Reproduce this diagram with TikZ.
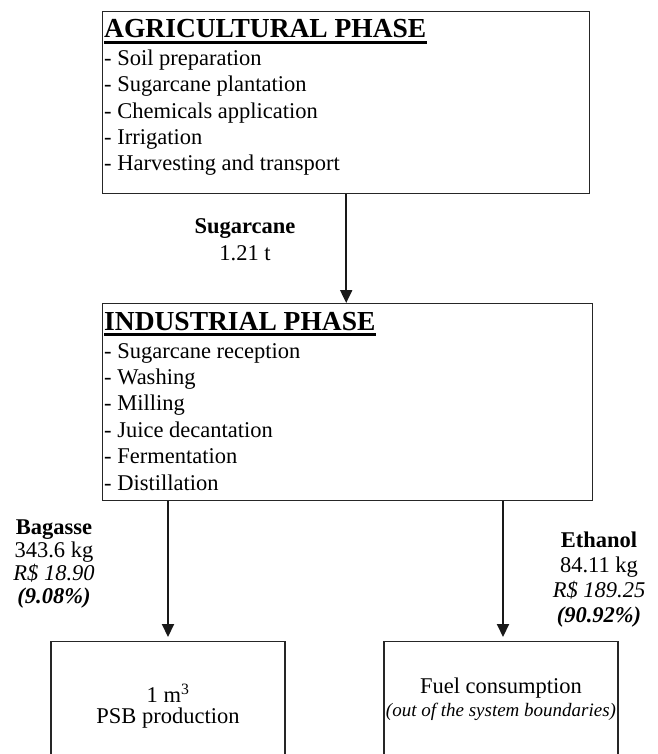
\documentclass[tikz,border=0pt]{standalone}
\usepackage{fontspec}
\setmainfont{Liberation Serif}
\usetikzlibrary{arrows.meta, positioning}
\tikzset{
	phasebox/.style={rectangle, draw=black!85, line width=1.4pt, inner sep=0pt, anchor=north west},
	prodbox/.style ={rectangle, draw=black!85, line width=1.4pt, inner sep=0pt, minimum width=234, minimum height=130, anchor=north},
	headtxt/.style ={font=\fontsize{27.5}{30}\selectfont\bfseries, inner sep=0pt, anchor=base west},
	itemtxt/.style ={font=\fontsize{22.5}{26.4}\selectfont, inner sep=0pt, anchor=base west, align=left},
	flowlbl/.style ={font=\fontsize{22.5}{23}\selectfont, inner sep=0pt, anchor=base, align=center},
	flowarr/.style ={-{Triangle[length=13pt, width=12pt]}, line width=2pt, black!90},
	headline/.style={line width=2.6pt},
}
\begin{document}
\begin{tikzpicture}[x=1pt, y=-1pt]
	\useasboundingbox (0,0) rectangle (657,754);
	\clip (0,0) rectangle (657,754);
	% agricultural phase
	\node[phasebox, minimum width=487, minimum height=182] (agri) at (102,11) {};
	\node[headtxt] (agrihead) at ([xshift=2pt, yshift=-27pt]agri.north west) {AGRICULTURAL PHASE};
	\draw[headline] ([yshift=-4.5pt]agrihead.base west) -- ([yshift=-4.5pt]agrihead.base east);
	\node[itemtxt] (agrilist) at ([xshift=2pt, yshift=-160pt]agri.north west) {- Soil preparation\\- Sugarcane plantation\\- Chemicals application\\- Irrigation\\- Harvesting and transport};
	% industrial phase
	\node[phasebox, minimum width=490, minimum height=197] (ind) at (102,303) {};
	\node[headtxt] (indhead) at ([xshift=2pt, yshift=-27pt]ind.north west) {INDUSTRIAL PHASE};
	\draw[headline] ([yshift=-4.5pt]indhead.base west) -- ([yshift=-4.5pt]indhead.base east);
	\node[itemtxt] (indlist) at ([xshift=2pt, yshift=-187pt]ind.north west) {- Sugarcane reception\\- Washing\\- Milling\\- Juice decantation\\- Fermentation\\- Distillation};
	% products
	\node[prodbox] (psb) at (168,641) {};
	\node[flowlbl, font=\fontsize{22.5}{21}\selectfont] (psbtxt) at (168,723) {1 m\textsuperscript{3}\\PSB production};
	\node[prodbox] (fuel) at (501,641) {};
	\node[flowlbl] (fueltxt) at (501,716) {Fuel consumption\\{\fontsize{19}{19}\selectfont\itshape (out of the system boundaries)}};
	% flows
	\draw[flowarr] (agri.south) -- (agri.south |- ind.north);
	\node[flowlbl, font=\fontsize{22.5}{27}\selectfont] (cane) at (245,260) {\textbf{Sugarcane}\\1.21 t};
	\draw[flowarr, shorten >=4pt] (psb.north |- ind.south) -- (psb.north);
	\node[flowlbl] (bagasse) at (54,603) {\textbf{Bagasse}\\343.6 kg\\\textit{R\$ 18.90}\\\textbf{\textit{(9.08\%)}}};
	\draw[flowarr, shorten >=4pt] ([xshift=2pt]fuel.north |- ind.south) -- ([xshift=2pt]fuel.north);
	\node[flowlbl, font=\fontsize{22.5}{25}\selectfont] (ethanol) at (599,622) {\textbf{Ethanol}\\84.11 kg\\\textit{R\$ 189.25}\\\textbf{\textit{(90.92\%)}}};
\end{tikzpicture}
\end{document}
